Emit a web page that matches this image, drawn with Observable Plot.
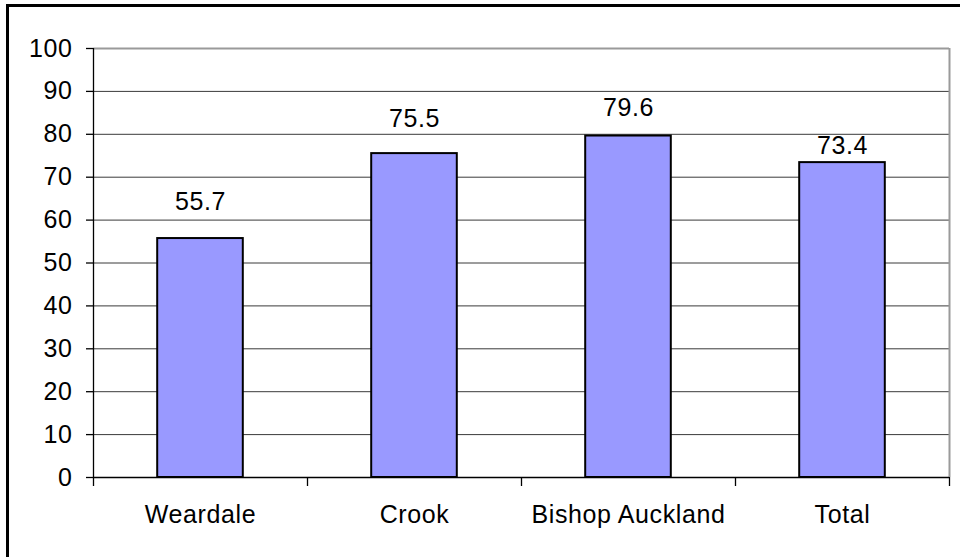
<!DOCTYPE html>
<html>
<head>
<meta charset="utf-8">
<script src="https://cdn.jsdelivr.net/npm/d3@7"></script>
<script src="https://cdn.jsdelivr.net/npm/@observablehq/plot@0.6"></script>
<style>
  html, body { margin: 0; padding: 0; background: #fff; overflow: hidden; }
  #chart { position: relative; width: 960px; height: 557px; }
  #chart svg { display: block; }
  #chart svg text { letter-spacing: 0.6px; }
  #frame { position: absolute; left: 6px; top: 4px; width: 1200px; height: 1200px;
           border: 3px solid #000; pointer-events: none; }
</style>
</head>
<body>
<div id="chart"><div id="frame"></div></div>
<script>
// Areas and their values (percent)
const areas = ["Weardale", "Crook", "Bishop Auckland", "Total"];
const values = [55.7, 75.5, 79.6, 73.4];
const yTicks = [0, 10, 20, 30, 40, 50, 60, 70, 80, 90, 100];

const rows = areas.map((area, i) => ({ area, value: values[i], i }));

// how far each value label sits above its bar, in pixels
const labelLift = [37, 35, 28.5, 16.5];

const font = "'Liberation Sans', Arial, Helvetica, sans-serif";

const plot = Plot.plot({
  width: 960,
  height: 557,
  marginLeft: 93,
  marginRight: 11,
  marginTop: 48,
  marginBottom: 80,
  style: { fontFamily: font, fontSize: "25px", color: "#000", background: "transparent" },
  x: { type: "linear", domain: [0, areas.length], axis: null },
  y: { domain: [0, 100], axis: null },
  marks: [
    // horizontal gridlines
    Plot.ruleY(yTicks.filter(t => t > 0 && t < 100), { stroke: "#3a3a3a", strokeWidth: 1 }),
    // plot-area border (top and right)
    Plot.ruleY([100], { stroke: "#9a9a9a", strokeWidth: 2 }),
    Plot.ruleX([areas.length], { y1: 0, y2: 100, stroke: "#9a9a9a", strokeWidth: 2 }),
    // bars
    Plot.rect(rows, {
      x1: d => d.i + 0.3,
      x2: d => d.i + 0.7,
      y1: 0,
      y2: "value",
      fill: "#9999FF",
      stroke: "#000",
      strokeWidth: 2
    }),
    // axis lines
    Plot.ruleY([0], { stroke: "#000", strokeWidth: 1.3 }),
    Plot.ruleX([0], { y1: 0, y2: 100, stroke: "#000", strokeWidth: 1.3 }),
    Plot.axisY({
      ticks: yTicks, tickSize: 7, tickPadding: 14, tickFormat: d => String(d),
      fontSize: 25, strokeWidth: 1.3, label: null
    }),
    // category dividers below the x axis
    Plot.axisX({
      ticks: d3.range(areas.length + 1), tickSize: 9, tickFormat: () => "",
      strokeWidth: 1.3, label: null
    }),
    // category names
    Plot.axisX({
      ticks: areas.map((_, i) => i + 0.5), tickSize: 0, tickPadding: 28,
      tickFormat: t => areas[Math.floor(t)], fontSize: 25, label: null
    }),
    // value labels above the bars
    ...rows.map((r, k) => Plot.text([r], {
      x: d => d.i + 0.5,
      y: "value",
      text: d => d.value.toFixed(1),
      dy: -labelLift[k],
      fontSize: 25,
      fill: "#000"
    }))
  ]
});

document.getElementById("chart").insertBefore(plot, document.getElementById("frame"));
</script>
</body>
</html>
